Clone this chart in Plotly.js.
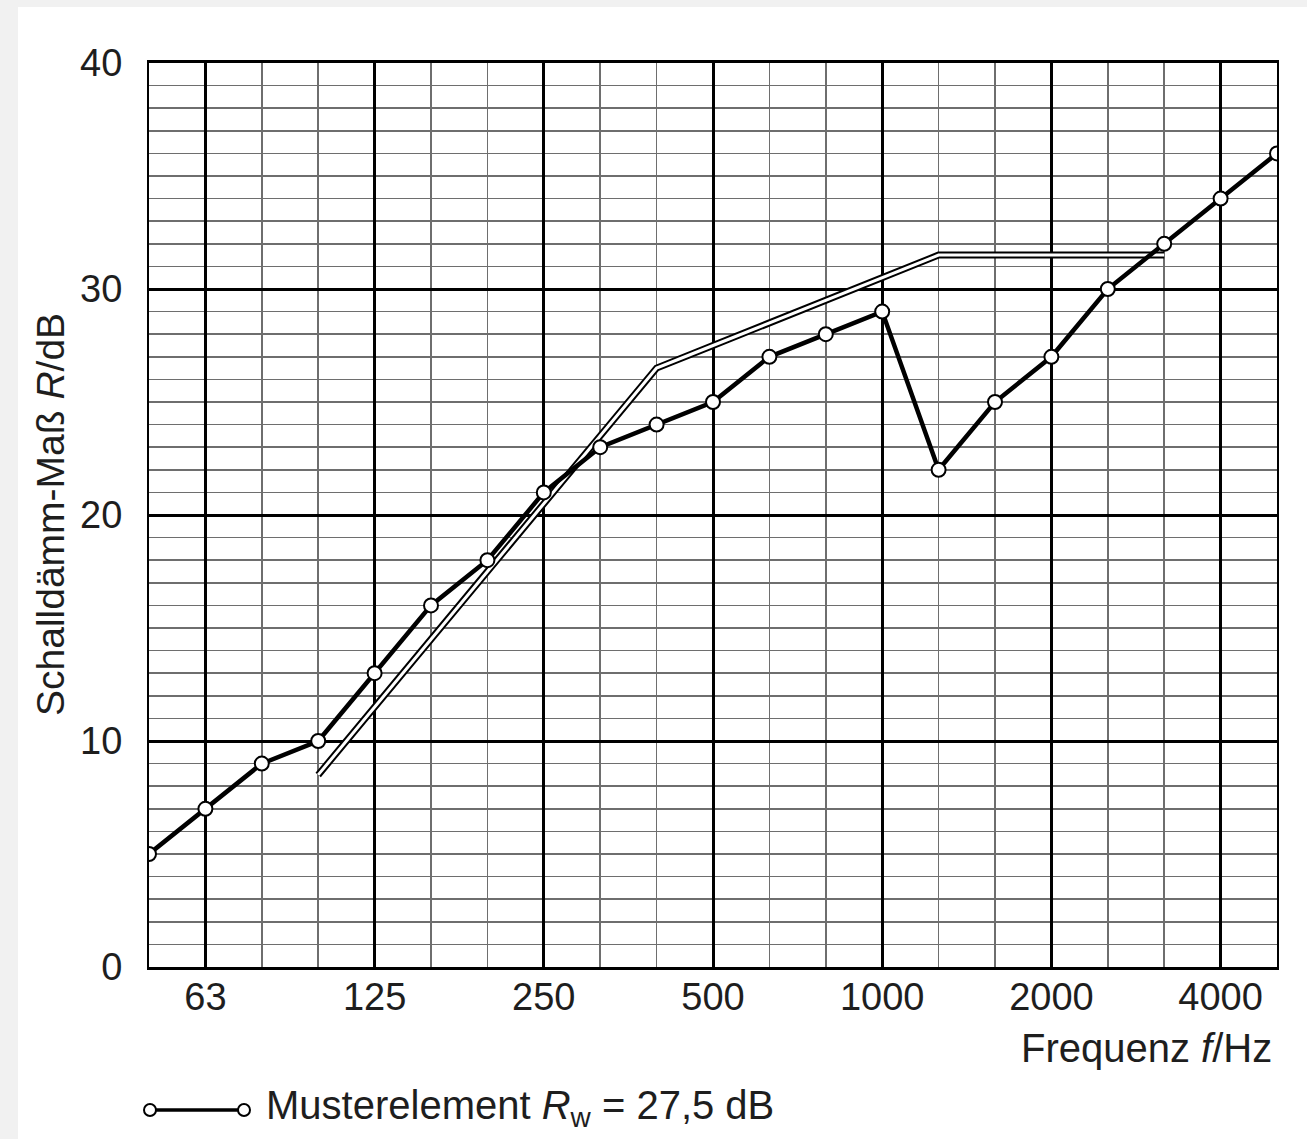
<!DOCTYPE html>
<html>
<head>
<meta charset="utf-8">
<script src="https://cdn.plot.ly/plotly-3.0.1.min.js"></script>
<style>html,body{margin:0;padding:0;background:#ffffff}</style>
</head>
<body>
<div id="chart" style="width:1307px;height:1139px"></div>
<script>
// Third-octave band centre frequencies (Hz)
const frequencies = ['50','63','80','100','125','160','200','250','315','400','500','630','800','1000','1250','1600','2000','2500','3150','4000','5000'];
// Measured sound reduction index R (dB) – Musterelement
const measuredR = [5,7,9,10,13,16,18,21,23,24,25,27,28,29,22,25,27,30,32,34,36];
// Shifted reference curve (ISO 717-1), 100 .. 3150 Hz
const referenceFreqs = ['100','125','160','200','250','315','400','500','630','800','1000','1250','1600','2000','2500','3150'];
const referenceR = [8.5,11.5,14.5,17.5,20.5,23.5,26.5,27.5,28.5,29.5,30.5,31.5,31.5,31.5,31.5,31.5];
// Axis labels
const octaveLabels = ['63','125','250','500','1000','2000','4000'];
const yMajorTicks = [0,10,20,30,40];
const yHalfTicks = [5,15,25,35];
const legendText = 'Musterelement <i>R</i><sub>w</sub> = 27,5 dB';

const idx = f => frequencies.indexOf(f);
const FONT = 'Liberation Sans, Arial, Helvetica, sans-serif';
const TXT = '#1e1e1e';

const traces = [
  { x: referenceFreqs.map(idx), y: referenceR, mode: 'lines', type: 'scatter',
    line: { color: '#000', width: 7 }, hoverinfo: 'skip', showlegend: false },
  { x: referenceFreqs.map(idx), y: referenceR, mode: 'lines', type: 'scatter',
    line: { color: '#fff', width: 3 }, hoverinfo: 'skip', showlegend: false },
  { x: frequencies.map(idx), y: measuredR, mode: 'lines+markers', type: 'scatter',
    line: { color: '#000', width: 4.5 },
    marker: { symbol: 'circle', size: 14, color: '#fff', line: { color: '#000', width: 2 } },
    showlegend: false }
];

// paper-coordinate helpers based on the plot area
const L = 149, R = 1277, T = 63, B = 967;
const px = x => (x - L) / (R - L);
const py = y => (B - y) / (B - T);

const layout = {
  width: 1307, height: 1139,
  margin: { l: L, r: 1307 - R, t: T, b: 1139 - B, pad: 0 },
  paper_bgcolor: '#f1f1f1',
  plot_bgcolor: '#ffffff',
  font: { family: FONT, size: 38, color: TXT },
  showlegend: false,
  xaxis: {
    range: [0, frequencies.length - 1],
    tickmode: 'array', tickvals: octaveLabels.map(idx), ticktext: octaveLabels,
    ticks: '', showgrid: true, gridcolor: '#000', gridwidth: 3,
    minor: { tickmode: 'linear', tick0: 0, dtick: 1, showgrid: true, gridcolor: '#6e6e6e', gridwidth: 1.6, ticks: '' },
    showline: true, mirror: true, linecolor: '#000', linewidth: 3,
    zeroline: false, fixedrange: true, ticklabelstandoff: -6,
    tickfont: { family: FONT, size: 38, color: TXT }
  },
  yaxis: {
    range: [0, 40],
    tickmode: 'array', tickvals: yMajorTicks, ticktext: yMajorTicks.map(String),
    ticks: '', showgrid: true, gridcolor: '#000', gridwidth: 3,
    minor: { tickmode: 'linear', tick0: 0, dtick: 1, showgrid: true, gridcolor: '#6e6e6e', gridwidth: 1.6, ticks: '' },
    showline: true, mirror: true, linecolor: '#000', linewidth: 2,
    zeroline: false, fixedrange: true, ticklabelstandoff: 17,
    tickfont: { family: FONT, size: 38, color: TXT }
  },
  yaxis2: {
    overlaying: 'y', anchor: 'x', side: 'left',
    range: [0, 40], tickmode: 'array', tickvals: yHalfTicks,
    showticklabels: false, ticks: '', showgrid: true, gridcolor: '#000', gridwidth: 2,
    showline: false, zeroline: false, fixedrange: true
  },
  shapes: [
    { type: 'rect', xref: 'paper', yref: 'paper', layer: 'below',
      x0: px(18), x1: px(1320), y0: py(1150), y1: py(7),
      fillcolor: '#ffffff', line: { width: 0 } },
    { type: 'line', xref: 'paper', yref: 'paper', x0: px(150), x1: px(244), y0: py(1110), y1: py(1110),
      line: { color: '#000', width: 3.5 } },
    { type: 'circle', xref: 'paper', yref: 'paper', xsizemode: 'pixel', ysizemode: 'pixel',
      xanchor: px(150), yanchor: py(1110), x0: -6, x1: 6, y0: -6, y1: 6,
      fillcolor: '#fff', line: { color: '#000', width: 2 } },
    { type: 'circle', xref: 'paper', yref: 'paper', xsizemode: 'pixel', ysizemode: 'pixel',
      xanchor: px(244), yanchor: py(1110), x0: -6, x1: 6, y0: -6, y1: 6,
      fillcolor: '#fff', line: { color: '#000', width: 2 } }
  ],
  annotations: [
    { text: 'Frequenz <i>f</i>/Hz', xref: 'paper', yref: 'paper', x: px(1274), y: py(1048),
      xanchor: 'right', yanchor: 'middle', showarrow: false, font: { family: FONT, size: 40, color: TXT } },
    { text: 'Schalldämm-Maß <i>R</i>/dB', xref: 'paper', yref: 'paper', x: px(50), y: py(515),
      xanchor: 'center', yanchor: 'middle', textangle: -90, showarrow: false, font: { family: FONT, size: 39, color: TXT } },
    { text: legendText, xref: 'paper', yref: 'paper', x: px(264), y: py(1108),
      xanchor: 'left', yanchor: 'middle', showarrow: false, font: { family: FONT, size: 40, color: TXT } }
  ]
};

Plotly.newPlot('chart', traces, layout, { displayModeBar: false, staticPlot: true });
</script>
</body>
</html>
